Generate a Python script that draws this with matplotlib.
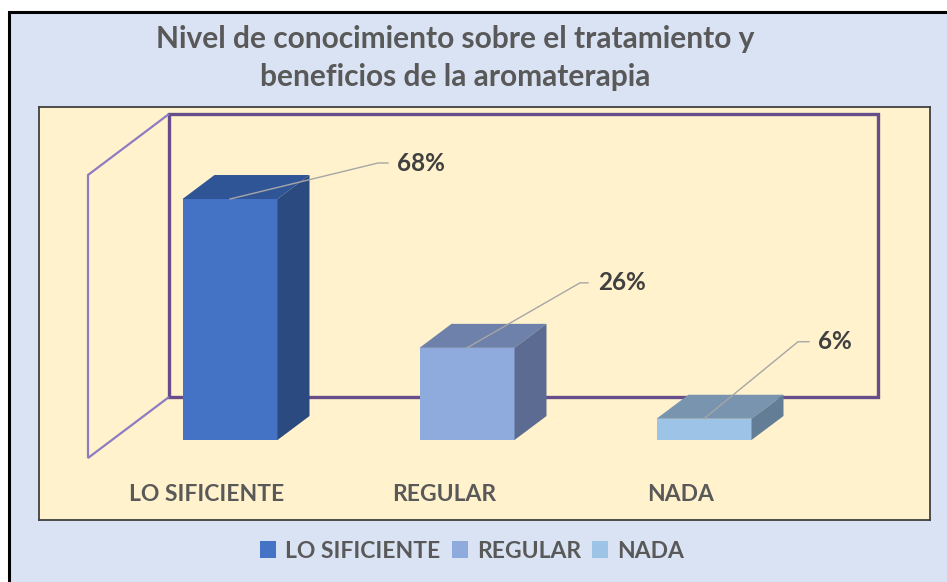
import matplotlib.pyplot as plt
from matplotlib.patches import Rectangle, Polygon, Patch

# Datos del grafico
categorias = ["LO SIFICIENTE", "REGULAR", "NADA"]
porcentajes = [68, 26, 6]
etiquetas = ["68%", "26%", "6%"]

titulo = "Nivel de conocimiento sobre el tratamiento y\nbeneficios de la aromaterapia"

# Colores de cada barra: frente, techo, lado
color_frente = ["#4472C4", "#8FAADC", "#9DC3E6"]
color_techo = ["#2F5597", "#6E81AA", "#7894AF"]
color_lado = ["#2A4A80", "#5C6B92", "#637D97"]

fuente = "Lato"
gris_texto = "#595959"

W, H = 947, 582
fig = plt.figure(figsize=(W / 100, H / 100), dpi=100)
fig.patch.set_facecolor("white")


def fx(px):
    return px / W


def fy(py):
    return 1 - py / H


# Fondo celeste con borde negro
fig.patches.append(Rectangle((fx(9), fy(600)), fx(960) - fx(9), fy(12) - fy(600),
                             transform=fig.transFigure, facecolor="#DAE3F3",
                             edgecolor="black", linewidth=2.2, zorder=-5))

# Area del grafico
x0, x1, y0, y1 = 39, 930, 107, 520
ax = fig.add_axes([fx(x0), fy(y1), fx(x1) - fx(x0), fy(y0) - fy(y1)])
ax.set_facecolor("#FFF2CC")
for s in ax.spines.values():
    s.set_color("#404040")
    s.set_linewidth(1.3)
ax.set_xticks([])
ax.set_yticks([])

# escala: pixeles por categoria y por punto porcentual
px_cat = 237
px_pct = 3.544
cx0, base = 230, 440  # pixel del centro de la primera barra y del piso
ax.set_xlim((x0 - cx0) / px_cat, (x1 - cx0) / px_cat)
ax.set_ylim((base - y1) / px_pct, (base - y0) / px_pct)


def dx(px):
    return px / px_cat


def dy(py):
    return py / px_pct


def px2d(px, py):
    return ((px - cx0) / px_cat, (base - py) / px_pct)


# Paredes del grafico 3D
pared = [px2d(169, 114), px2d(878, 114), px2d(878, 397), px2d(169, 397)]
ax.add_patch(Polygon(pared, closed=True, fill=False, edgecolor="#674E8A", linewidth=2.4, zorder=1))
lateral = [px2d(169, 114), px2d(88, 175), px2d(88, 458), px2d(169, 397)]
ax.add_patch(Polygon(lateral, closed=False, fill=False, edgecolor="#8E7CC3", linewidth=1.6, zorder=1))

# Barras en 3D
ancho = 95 / px_cat
prof_x, prof_y = dx(32), dy(24)
posiciones = list(range(len(categorias)))
ax.bar(posiciones, porcentajes, width=ancho, color=color_frente, zorder=3)
for i, v in zip(posiciones, porcentajes):
    izq, der = i - ancho / 2, i + ancho / 2
    techo = [(izq, v), (izq + prof_x, v + prof_y), (der + prof_x, v + prof_y), (der, v)]
    lado = [(der, 0), (der, v), (der + prof_x, v + prof_y), (der + prof_x, prof_y)]
    ax.add_patch(Polygon(techo, closed=True, facecolor=color_techo[i], edgecolor="none", zorder=3))
    ax.add_patch(Polygon(lado, closed=True, facecolor=color_lado[i], edgecolor="none", zorder=3))

# Etiquetas con lineas guia (desplazamientos en pixeles: codo, tramo horizontal, texto)
desplazamientos = [(148, 36, 10, 19), (113, 65, 8, 18), (94, 77, 11, 20)]
for i, v, et, (ex, ey, hx, tx) in zip(posiciones, porcentajes, etiquetas, desplazamientos):
    codo = (i + dx(ex), v + dy(ey))
    fin = (codo[0] + dx(hx), codo[1])
    ax.plot([i, codo[0], fin[0]], [v, codo[1], fin[1]], color="#A6A6A6", linewidth=1, zorder=4)
    ax.text(codo[0] + dx(tx), codo[1], et, fontsize=17.5, fontweight="bold",
            family=fuente, color="#404040", ha="left", va="center", zorder=5)

# Nombres de categoria
for i, cat in zip(posiciones, categorias):
    ax.text(i - dx(23), dy(-54), cat, fontsize=16.5, fontweight="bold", family=fuente,
            color=gris_texto, ha="center", va="center")

# Titulo
fig.text(fx(455), fy(58), titulo, fontsize=21.5, fontweight="bold", family=fuente,
         color=gris_texto, ha="center", va="center", linespacing=1.45)

# Leyenda
manijas = [Patch(facecolor=c, edgecolor="none") for c in color_frente]
fig.legend(manijas, categorias, loc="center", bbox_to_anchor=(fx(472), fy(551)), ncol=3,
           frameon=False, handlelength=0.7, handleheight=0.7, handletextpad=0.4,
           columnspacing=0.5, prop={"family": fuente, "weight": "bold", "size": 16.5},
           labelcolor=gris_texto)

fig.savefig("out.png", dpi=100, facecolor=fig.get_facecolor())
